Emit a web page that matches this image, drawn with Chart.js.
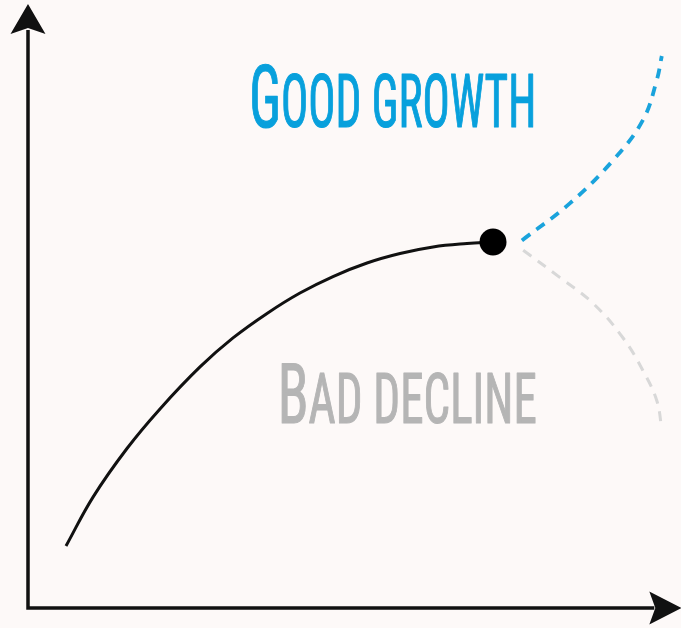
<!DOCTYPE html>
<html>
<head>
<meta charset="utf-8">
<script src="https://cdn.jsdelivr.net/npm/chart.js@4.4.1/dist/chart.umd.min.js"></script>
<style>
  html, body { margin: 0; padding: 0; background: #fdf9f8; }
  #c { display: block; }
</style>
</head>
<body>
<canvas id="c" width="681" height="628"></canvas>
<script>
// ---- data (abstract units: origin at axes crossing, 0..100 each way) ----
const curveX = [6.03, 10.32, 15.71, 20.95, 27.30, 32.54, 37.94, 43.17, 48.41, 53.81, 59.05, 64.29, 69.68, 73.81];
const curveY = [10.73, 19.19, 27.60, 34.45, 41.71, 46.73, 50.97, 54.50, 57.35, 59.69, 61.33, 62.46, 63.06, 63.32];
const upX    = [78.4, 86.0, 92.9, 97.6, 99.8, 100.6];
const upY    = [63.6, 70.0, 77.5, 84.4, 91.3, 95.5];
const downX  = [78.6, 84.4, 89.7, 94.4, 97.6, 99.8, 100.6];
const downY  = [61.9, 57.2, 52.7, 46.8, 41.1, 35.9, 31.0];
const labelGood = 'Good growth';
const labelBad  = 'Bad decline';

const toPts = (xs, ys) => xs.map((x, i) => ({ x: x, y: ys[i] }));

const bgPlugin = {
  id: 'bg',
  beforeDraw(chart) {
    const ctx = chart.ctx;
    ctx.save();
    ctx.fillStyle = '#fdf9f8';
    ctx.fillRect(0, 0, chart.width, chart.height);
    ctx.restore();
  }
};

const axesPlugin = {
  id: 'arrowAxes',
  beforeDatasetsDraw(chart) {
    const ctx = chart.ctx, xs = chart.scales.x, ys = chart.scales.y;
    const ox = xs.getPixelForValue(0), oy = ys.getPixelForValue(0);
    const topY = ys.getPixelForValue(104.5);
    const rightX = xs.getPixelForValue(103.7);
    ctx.save();
    ctx.strokeStyle = '#111';
    ctx.fillStyle = '#111';
    ctx.lineWidth = 3.5;
    ctx.lineCap = 'butt';
    ctx.beginPath();
    ctx.moveTo(ox, oy + 1.7);
    ctx.lineTo(ox, topY + 26);
    ctx.moveTo(ox - 1.7, oy);
    ctx.lineTo(rightX - 27, oy);
    ctx.stroke();
    // vertical arrow head
    ctx.beginPath();
    ctx.moveTo(ox, topY);
    ctx.lineTo(ox + 17.5, topY + 30);
    ctx.lineTo(ox, topY + 24);
    ctx.lineTo(ox - 17.5, topY + 30);
    ctx.closePath();
    ctx.fill();
    // horizontal arrow head
    ctx.beginPath();
    ctx.moveTo(rightX, oy);
    ctx.lineTo(rightX - 32, oy - 16.5);
    ctx.lineTo(rightX - 26, oy);
    ctx.lineTo(rightX - 32, oy + 16.5);
    ctx.closePath();
    ctx.fill();
    ctx.restore();
  }
};

function drawSmallCaps(ctx, text, cx, baseline, targetW, bigPx, smallPx, color) {
  const fam = '"Liberation Sans Narrow", "Roboto Condensed", Roboto, "DejaVu Sans", sans-serif';
  const first = text.charAt(0).toUpperCase();
  const rest = text.slice(1).toUpperCase();
  const bigFont = '400 ' + bigPx + 'px ' + fam;
  const smallFont = '400 ' + smallPx + 'px ' + fam;
  ctx.font = bigFont;
  const w1 = ctx.measureText(first).width;
  ctx.font = smallFont;
  const w2 = ctx.measureText(rest).width;
  const sx = targetW / (w1 + w2);
  ctx.save();
  ctx.translate(cx - targetW / 2, baseline);
  ctx.scale(sx, 1);
  ctx.fillStyle = color;
  ctx.strokeStyle = color;
  ctx.lineWidth = 1.2;
  ctx.lineJoin = 'round';
  ctx.textBaseline = 'alphabetic';
  ctx.textAlign = 'left';
  ctx.font = bigFont;
  ctx.fillText(first, 0, 0);
  ctx.strokeText(first, 0, 0);
  ctx.font = smallFont;
  ctx.fillText(rest, w1, 0);
  ctx.strokeText(rest, w1, 0);
  ctx.restore();
}

const labelsPlugin = {
  id: 'labels',
  afterDatasetsDraw(chart) {
    const ctx = chart.ctx, xs = chart.scales.x, ys = chart.scales.y;
    drawSmallCaps(ctx, labelGood, xs.getPixelForValue(57.9), ys.getPixelForValue(83.2), 287, 88, 74, '#08a0dc');
    drawSmallCaps(ctx, labelBad, xs.getPixelForValue(60.2), ys.getPixelForValue(32.0), 259, 84, 70, '#b5b5b5');
  }
};

new Chart(document.getElementById('c'), {
  type: 'line',
  data: {
    datasets: [
      {
        data: toPts(downX, downY),
        borderColor: '#d8d8d8',
        borderWidth: 3,
        borderDash: [10, 8],
        tension: 0.4,
        pointRadius: 0,
        fill: false
      },
      {
        data: toPts(upX, upY),
        borderColor: '#1aa3dc',
        borderWidth: 3.8,
        borderDash: [10, 8],
        tension: 0.4,
        pointRadius: 0,
        fill: false
      },
      {
        data: toPts(curveX, curveY),
        borderColor: '#111',
        borderWidth: 3,
        tension: 0.4,
        fill: false,
        pointRadius: (c) => c.dataIndex === curveX.length - 1 ? 13.5 : 0,
        pointBackgroundColor: '#000',
        pointBorderWidth: 0
      }
    ]
  },
  options: {
    responsive: false,
    animation: false,
    layout: { padding: 0, autoPadding: false },
    plugins: { legend: { display: false }, tooltip: { enabled: false } },
    scales: {
      x: { type: 'linear', display: false, min: -4.444, max: 103.65 },
      y: { type: 'linear', display: false, min: -3.46, max: 105.19 }
    }
  },
  plugins: [bgPlugin, axesPlugin, labelsPlugin]
});
</script>
</body>
</html>
